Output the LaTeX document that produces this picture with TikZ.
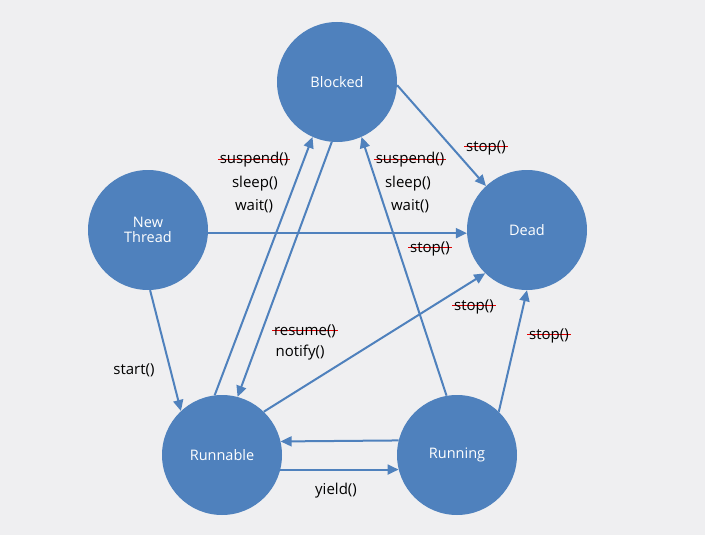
\documentclass[tikz,border=0pt]{standalone}
\usepackage{fontspec}
\setmainfont{Open Sans}
\usetikzlibrary{arrows.meta}
\definecolor{bg}{RGB}{239,239,241}
\definecolor{stateblue}{RGB}{79,129,189}
\definecolor{strikered}{RGB}{224,0,0}
\tikzset{
  state/.style={circle, fill=stateblue, draw=none, minimum size=120pt, inner sep=0pt,
    text=white, align=center, font=\fontsize{14.5}{17}\selectfont},
  conn/.style={draw=stateblue, line width=2pt, -{Triangle[length=11pt,width=10pt]}},
  lbl/.style={font=\fontsize{15}{18}\selectfont, inner sep=0pt, text height=11pt, text depth=3pt},
  struck/.style={lbl, inner xsep=2pt,
    path picture={\draw[strikered, line width=1.8pt]
      ([yshift=0.5pt]path picture bounding box.west) -- ([yshift=0.5pt]path picture bounding box.east);}}
}
\begin{document}
\begin{tikzpicture}[x=1pt, y=-1pt]
\fill[bg] (0,0) rectangle (705,535);
\useasboundingbox (0,0) rectangle (705,535);

\node[state] (blk) at (337,82) {Blocked};
\node[state] (new) at (148,230) {New\\[-2pt]Thread};
\node[state] (dead) at (527,230) {Dead};
\node[state] (rnb) at (222,455) {Runnable};
\node[state] (run) at (457,455) {Running};

\draw[conn] (new.-3) -- (dead.183);
\draw[conn] (new.-88) -- (rnb.133);
\draw[conn] (rnb.97) -- (blk.246);
\draw[conn] (blk.265) -- (rnb.75);
\draw[conn] (run.100) -- (blk.294);
\draw[conn] (blk.-3) -- (dead.133);
\draw[conn] (rnb.46) -- (dead.226);
\draw[conn] (run.46) -- (dead.270);
\draw[conn] (run.166) -- (rnb.13);
\draw[conn] (rnb.-14) -- (run.194);

\node[struck] (l1) at (254,160) {suspend()};
\node[lbl] (l2) at (255,183) {sleep()};
\node[lbl] (l3) at (254,206) {wait()};
\node[struck] (r1) at (410,160) {suspend()};
\node[lbl] (r2) at (408,183) {sleep()};
\node[lbl] (r3) at (410,206) {wait()};
\node[struck] (s1) at (486,147) {stop()};
\node[struck] (s2) at (430,248) {stop()};
\node[struck] (s3) at (474,306) {stop()};
\node[struck] (s4) at (549,335) {stop()};
\node[struck] (rs) at (305,331) {resume()};
\node[lbl] (nf) at (300,352) {notify()};
\node[lbl] (st) at (134,370) {start()};
\node[lbl] (yd) at (336,490) {yield()};
\end{tikzpicture}
\end{document}
